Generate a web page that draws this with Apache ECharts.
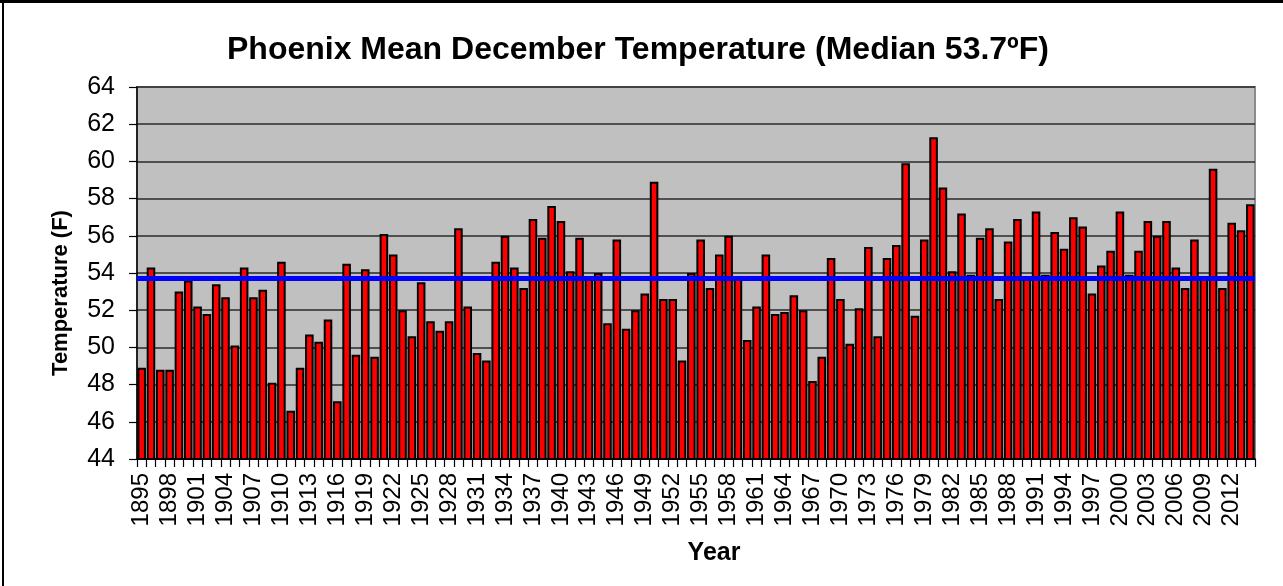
<!DOCTYPE html>
<html>
<head>
<meta charset="utf-8">
<title>Phoenix Mean December Temperature</title>
<script src="https://cdn.jsdelivr.net/npm/echarts@6/dist/echarts.min.js"></script>
<style>
  html, body { margin: 0; padding: 0; background: #ffffff; }
  #chart { width: 1283px; height: 586px; }
</style>
</head>
<body>
<div id="chart"></div>
<script>
// December mean temperatures in Phoenix, one bar per year
const years = [
  '1895','1896','1897','1898','1899','1900','1901','1902','1903','1904',
  '1905','1906','1907','1908','1909','1910','1911','1912','1913','1914',
  '1915','1916','1917','1918','1919','1920','1921','1922','1923','1924',
  '1925','1926','1927','1928','1929','1930','1931','1932','1933','1934',
  '1935','1936','1937','1938','1939','1940','1941','1942','1943','1944',
  '1945','1946','1947','1948','1949','1950','1951','1952','1953','1954',
  '1955','1956','1957','1958','1959','1960','1961','1962','1963','1964',
  '1965','1966','1967','1968','1969','1970','1971','1972','1973','1974',
  '1975','1976','1977','1978','1979','1980','1981','1982','1983','1984',
  '1985','1986','1987','1988','1989','1990','1991','1992','1993','1994',
  '1995','1996','1997','1998','1999','2000','2001','2002','2003','2004',
  '2005','2006','2007','2008','2009','2010','2011','2012','2013','2014'
];

const temps1895to1934 = [
  48.9, 54.3, 48.8, 48.8, 53.0, 53.6, 52.2, 51.8, 53.4, 52.7,
  50.1, 54.3, 52.7, 53.1, 48.1, 54.6, 46.6, 48.9, 50.7, 50.3,
  51.5, 47.1, 54.5, 49.6, 54.2, 49.5, 56.1, 55.0, 52.0, 50.6,
  53.5, 51.4, 50.9, 51.4, 56.4, 52.2, 49.7, 49.3, 54.6, 56.0
];
const temps1935to1974 = [
  54.3, 53.2, 56.9, 55.9, 57.6, 56.8, 54.1, 55.9, 53.8, 54.0,
  51.3, 55.8, 51.0, 52.0, 52.9, 58.9, 52.6, 52.6, 49.3, 54.0,
  55.8, 53.2, 55.0, 56.0, 53.7, 50.4, 52.2, 55.0, 51.8, 51.9,
  52.8, 52.0, 48.2, 49.5, 54.8, 52.6, 50.2, 52.1, 55.4, 50.6
];
const temps1975to2014 = [
  54.8, 55.5, 59.9, 51.7, 55.8, 61.3, 58.6, 54.1, 57.2, 53.9,
  55.9, 56.4, 52.6, 55.7, 56.9, 53.7, 57.3, 53.9, 56.2, 55.3,
  57.0, 56.5, 52.9, 54.4, 55.2, 57.3, 53.9, 55.2, 56.8, 56.0,
  56.8, 54.3, 53.2, 55.8, 53.7, 59.6, 53.2, 56.7, 56.3, 57.7
];
const temps = temps1895to1934.concat(temps1935to1974, temps1975to2014);

// Long-term median drawn as the horizontal reference line
const MEDIAN = 53.7;

const yTicks = { min: 44, max: 64, step: 2 };

const chart = echarts.init(document.getElementById('chart'), null, { renderer: 'canvas' });

const font = 'Liberation Sans, Arial, Helvetica, sans-serif';

chart.setOption({
  backgroundColor: '#ffffff',
  animation: false,
  title: {
    text: 'Phoenix Mean December Temperature (Median ' + MEDIAN.toFixed(1) + '\u00baF)',
    left: 633,
    top: 29,
    textAlign: 'center',
    textStyle: { fontFamily: font, fontWeight: 'bold', fontSize: 32, color: '#000' }
  },
  grid: {
    left: 137, right: 28, top: 87, bottom: 127,
    show: true,
    backgroundColor: '#c0c0c0',
    borderColor: '#8c8c8c',
    borderWidth: 2
  },
  xAxis: {
    type: 'category',
    data: years,
    boundaryGap: true,
    axisLine: { show: true, lineStyle: { color: '#000', width: 1.5 } },
    axisTick: { show: true, interval: 0, length: 8, lineStyle: { color: '#000', width: 1.2 } },
    axisLabel: {
      interval: 2,
      rotate: 90,
      margin: 14,
      fontFamily: font,
      fontSize: 24,
      color: '#000'
    },
    splitLine: { show: false }
  },
  yAxis: {
    type: 'value',
    min: yTicks.min,
    max: yTicks.max,
    interval: yTicks.step,
    axisLine: { show: true, lineStyle: { color: '#000', width: 1.5 } },
    axisTick: { show: true, length: 8, lineStyle: { color: '#000', width: 1.2 } },
    axisLabel: { margin: 22, fontFamily: font, fontSize: 25, color: '#000' },
    splitLine: { show: true, lineStyle: { color: '#2a2a2a', width: 1.5 } }
  },
  graphic: [
    { type: 'rect', shape: { x: 0, y: 0, width: 1283, height: 3 }, style: { fill: '#000' }, silent: true },
    { type: 'rect', shape: { x: 2, y: 0, width: 2, height: 586 }, style: { fill: '#000' }, silent: true },
    {
      type: 'text', x: 61, y: 293, rotation: Math.PI / 2,
      style: {
        text: 'Temperature (F)', fill: '#000',
        font: 'bold 22px ' + font, textAlign: 'center', textVerticalAlign: 'middle'
      }
    },
    {
      type: 'text', x: 714, y: 553,
      style: {
        text: 'Year', fill: '#000',
        font: 'bold 25px ' + font, textAlign: 'center', textVerticalAlign: 'middle'
      }
    }
  ],
  series: [{
    type: 'bar',
    data: temps,
    barCategoryGap: '8%',
    itemStyle: { color: '#ff0000', borderColor: '#000', borderWidth: 2 },
    markLine: {
      silent: true,
      symbol: 'none',
      label: { show: false },
      lineStyle: { color: '#0000ff', width: 5, type: 'solid' },
      data: [{ yAxis: MEDIAN }]
    }
  }]
});
</script>
</body>
</html>
